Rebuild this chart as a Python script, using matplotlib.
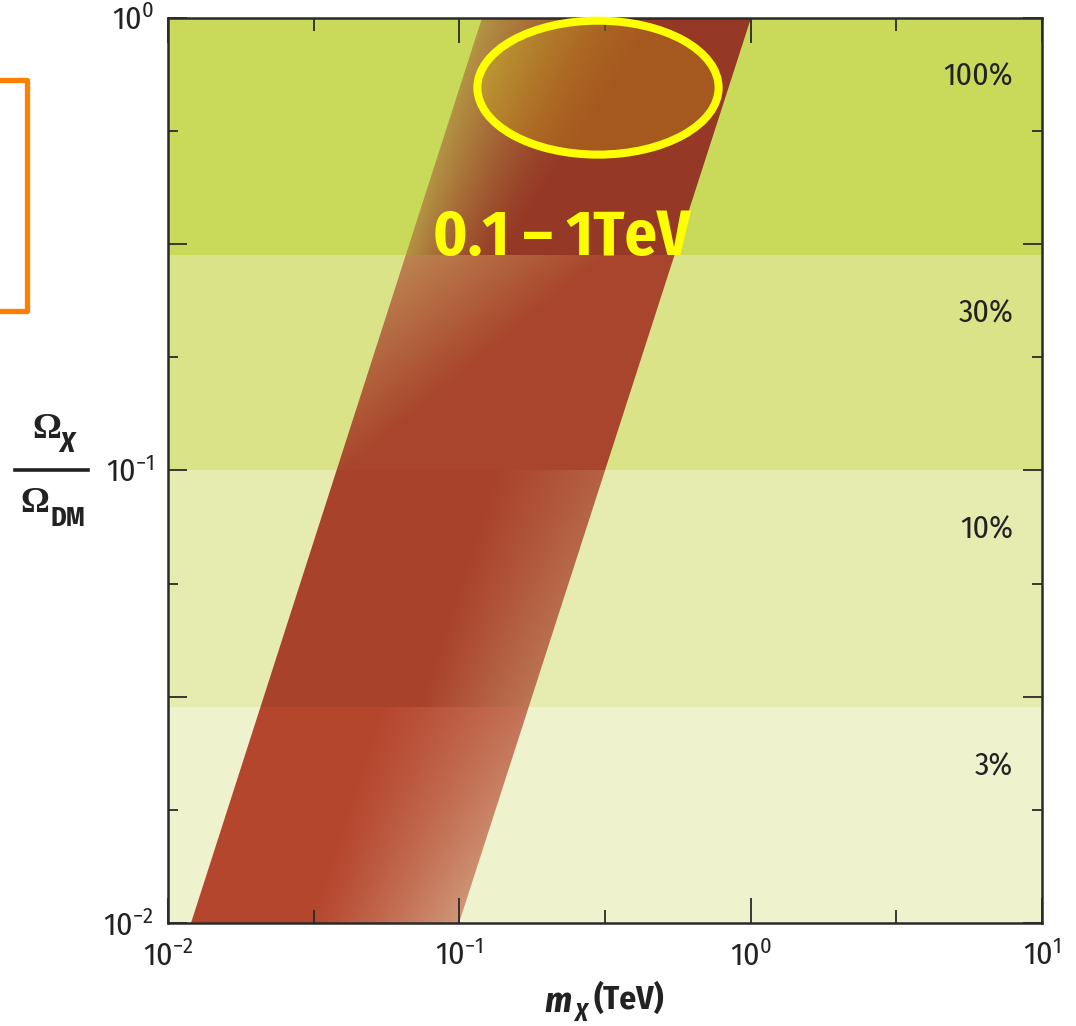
import numpy as np
import matplotlib
matplotlib.use("Agg")
import matplotlib.pyplot as plt
from matplotlib import font_manager
from matplotlib.patches import Ellipse, Polygon
from matplotlib.lines import Line2D
from matplotlib.ticker import FixedLocator, FuncFormatter, NullFormatter

# horizontal bands of Omega_X / Omega_DM and their labels
band_edges = [0.01, 0.03, 0.1, 0.3, 1.0]
band_labels = ["3%", "10%", "30%", "100%"]
band_colors = ["#eef2cd", "#e6ebb0", "#dbe388", "#c9da5a"]

# allowed strip follows Omega ~ m^2; masses (TeV) where it reaches Omega = 1
strip_mass_low = 0.12
strip_mass_high = 1.0
strip_colors = ["#b5462e", "#a9422b", "#a8452c", "#953826"]

x_major = [1e-2, 1e-1, 1e0, 1e1]
x_minor = [10 ** -1.5, 10 ** -0.5, 10 ** 0.5]
y_major = [1e-2, 10 ** -1.5, 1e-1, 10 ** -0.5, 1e0]
y_minor = [10 ** -1.75, 10 ** -1.25, 10 ** -0.75, 10 ** -0.25]

highlight_text = "0.1 – 1TeV"


def pick_font(names):
    for n in names:
        try:
            font_manager.findfont(n, fallback_to_default=False)
            return n
        except ValueError:
            continue
    return "DejaVu Sans"


narrow = pick_font(["Fira Sans Condensed", "PT Sans Narrow", "Liberation Sans Narrow",
                    "Liberation Sans"])
is_narrow = narrow != "Liberation Sans"
serif = pick_font(["Liberation Serif", "DejaVu Serif"])

plt.rcParams["font.family"] = [narrow, "DejaVu Sans"]

fig = plt.figure(figsize=(10.76, 10.26), dpi=100)
ax = fig.add_axes([0.1561, 0.1004, 0.8123, 0.8821])
ax.set_xscale("log")
ax.set_yscale("log")
ax.set_xlim(1e-2, 1e1)
ax.set_ylim(1e-2, 1e0)

# background bands
for lo, hi, c in zip(band_edges[:-1], band_edges[1:], band_colors):
    ax.axhspan(lo, hi, color=c, lw=0, zorder=0)

# strip shading, built on a log grid and clipped to the strip outline
lx = np.linspace(-2, 1, 901)
ly = np.linspace(-2, 0, 601)
cx = 0.5 * (lx[1:] + lx[:-1])
cy = 0.5 * (ly[1:] + ly[:-1])
CX, CY = np.meshgrid(cx, cy)
left = np.log10(strip_mass_low) + CY / 2
right = np.log10(strip_mass_high) + CY / 2
u = (CX - left) / (right - left)
t = (CY + 2) / 2
region = np.clip(np.searchsorted(np.log10(band_edges), CY) - 1, 0, 3)

fade = np.zeros_like(u)
# lower bands: lighter toward the right edge
r0 = region == 0
s0 = t / 0.239
fade[r0] = (0.47 * np.clip((u - 0.45) / 0.55, 0, 1) ** 1.1 * (1 - 0.45 * s0))[r0]
r1 = region == 1
s1 = (t - 0.239) / 0.261
fade[r1] = (0.3 * np.clip((u - 0.6) / 0.4, 0, 1) * (1 - 0.4 * s1))[r1]
# upper bands: lighter toward the upper left
r2 = region == 2
d2 = (t - 0.5) / 0.239
fade[r2] = (0.38 * np.clip(d2 - 1.4 * u + 0.05, 0, 1))[r2]
r3 = region == 3
d3 = (t - 0.739) / 0.261
fade[r3] = (0.56 * np.clip(1 - u / (0.38 + 0.27 * d3), 0, 1) ** 1.5)[r3]

base = np.array([matplotlib.colors.to_rgb(c) for c in strip_colors])
bg = np.array([matplotlib.colors.to_rgb(c) for c in band_colors])
rgb = (1 - fade[..., None]) * base[region] + fade[..., None] * bg[region]

mesh = ax.pcolormesh(10 ** lx, 10 ** ly, rgb, shading="flat",
                     antialiased=False, edgecolors="none", zorder=1)
om = np.array([band_edges[0], band_edges[-1]])
strip_xy = [(strip_mass_low * np.sqrt(om[0]), om[0]),
            (strip_mass_high * np.sqrt(om[0]), om[0]),
            (strip_mass_high * np.sqrt(om[1]), om[1]),
            (strip_mass_low * np.sqrt(om[1]), om[1])]
clip = Polygon(strip_xy, closed=True, transform=ax.transData)
mesh.set_clip_path(clip)

# percentage labels
for hi, lab in zip(band_edges[1:], band_labels):
    ax.text(0.967, hi * 0.74, lab, transform=ax.get_yaxis_transform(),
            ha="right", va="center", fontsize=23 if is_narrow else 21,
            color="#222222", zorder=3)

# highlight ellipse (lightly tinted inside) and text
ax.add_patch(Ellipse((0.492, 0.923), 0.276, 0.148, transform=ax.transAxes,
                     fc=(1, 1, 0, 0.17), ec="#ffff00", lw=5.8, zorder=6,
                     clip_on=False))
ax.text(0.303, 0.738, highlight_text, transform=ax.transAxes, color="#ffff00",
        fontsize=46 if is_narrow else 37, fontweight="bold",
        ha="left", va="baseline", zorder=6)

# axes styling
for sp in ax.spines.values():
    sp.set_color("#2a2a2a")
    sp.set_linewidth(1.8)
    sp.set_zorder(5)

dec_fmt = FuncFormatter(lambda v, p: r"$\mathregular{10^{%d}}$" % round(np.log10(v))
                        if abs(np.log10(v) - round(np.log10(v))) < 1e-6 else "")
ax.xaxis.set_major_locator(FixedLocator(x_major))
ax.xaxis.set_minor_locator(FixedLocator(x_minor))
ax.yaxis.set_major_locator(FixedLocator(y_major))
ax.yaxis.set_minor_locator(FixedLocator(y_minor))
ax.xaxis.set_major_formatter(dec_fmt)
ax.yaxis.set_major_formatter(dec_fmt)
ax.xaxis.set_minor_formatter(NullFormatter())
ax.yaxis.set_minor_formatter(NullFormatter())

ax.tick_params(which="both", direction="in", top=True, right=True,
               color="#2a2a2a", width=1.3, labelsize=23 if is_narrow else 21,
               labelcolor="#222222")
ax.tick_params(axis="x", which="major", length=18, pad=13)
ax.tick_params(axis="x", which="minor", length=9.5)
ax.tick_params(axis="y", which="major", length=14, pad=10)
ax.tick_params(axis="y", which="minor", length=7)

# y label as a stacked fraction
fig.text(47 / 1076, 1 - 438 / 1026, "Ω", family=serif, fontsize=26,
         fontweight="bold", ha="center", va="baseline", color="#222222")
fig.text(59 / 1076, 1 - 452 / 1026, "X", fontsize=21, fontweight="bold",
         style="italic", ha="left", va="baseline", color="#222222")
fig.add_artist(Line2D([15 / 1076, 88 / 1076], [1 - 470 / 1026, 1 - 470 / 1026],
                      color="#222222", lw=2.6))
fig.text(35 / 1076, 1 - 512 / 1026, "Ω", family=serif, fontsize=26,
         fontweight="bold", ha="center", va="baseline", color="#222222")
fig.text(50 / 1076, 1 - 526 / 1026, "DM", fontsize=19, fontweight="bold",
         ha="left", va="baseline", color="#222222")

# x label
fig.text(544 / 1076, 1 - 1012 / 1026, "m", fontsize=26, fontweight="bold",
         style="italic", ha="left", va="baseline", color="#222222")
fig.text(574 / 1076, 1 - 1021 / 1026, "X", fontsize=18, fontweight="bold",
         style="italic", ha="left", va="baseline", color="#222222")
fig.text(593 / 1076, 1 - 1009 / 1026, "(TeV)", fontsize=24, fontweight="bold",
         ha="left", va="baseline", color="#222222")

# orange bracket on the left edge
fig.add_artist(Line2D([0, 27 / 1076, 27 / 1076, 0],
                      [1 - 80 / 1026, 1 - 80 / 1026, 1 - 311 / 1026, 1 - 311 / 1026],
                      color="#ff8000", lw=3.8, solid_joinstyle="round"))

fig.savefig("out.png", dpi=100)
